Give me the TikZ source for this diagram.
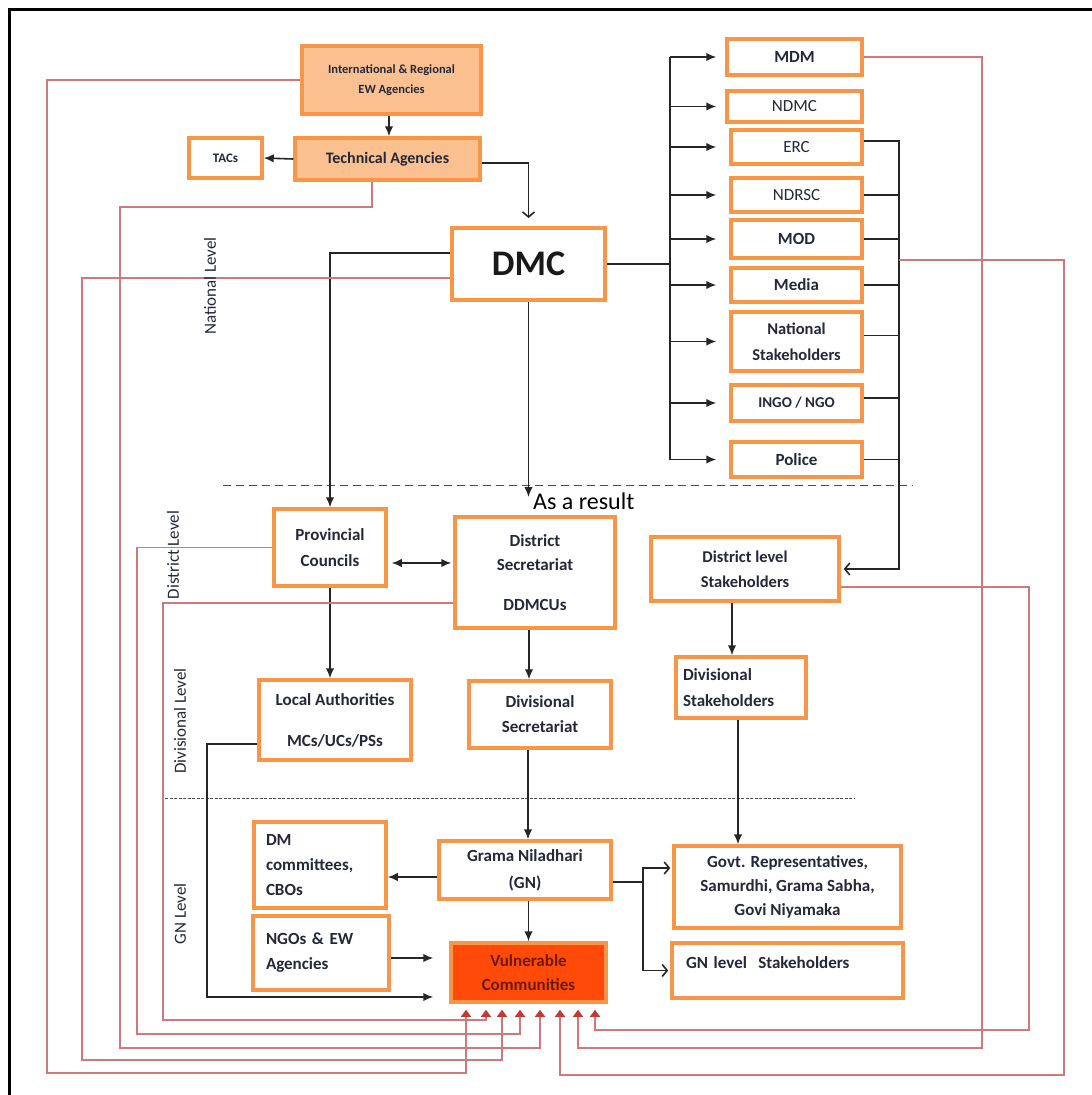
\documentclass[tikz,border=0pt]{standalone}
\usepackage{fontspec}
\setmainfont{Carlito}
\usetikzlibrary{arrows.meta,calc}

\definecolor{boxedge}{HTML}{F79646}
\definecolor{boxfill}{HTML}{FAC090}
\definecolor{hotfill}{HTML}{FF4A0A}
\definecolor{hotink}{HTML}{6B1A0A}
\definecolor{ink}{HTML}{23283A}
\definecolor{feedred}{HTML}{CD7A7A}
\definecolor{feedtip}{HTML}{C23A32}

\begin{document}
\begin{tikzpicture}[x=1pt,y=-1pt,
  box/.style={draw=boxedge, line width=3.5pt, fill=white, inner sep=0pt,
    align=center, text=ink, font=\bfseries\fontsize{17}{25}\selectfont},
  plain/.style={font=\fontsize{17}{25}\selectfont},
  conn/.style={draw=black!85, line width=1.6pt},
  arr/.style={conn, -{Latex[length=10pt,width=8.5pt]}},
  dblarr/.style={conn, {Latex[length=10pt,width=8.5pt]}-{Latex[length=10pt,width=8.5pt]}},
  openarr/.style={conn, -{Straight Barb[length=5pt,width=12pt]}},
  feed/.style={draw=feedred, line width=1.2pt},
  feedarr/.style={feed, -{Triangle[length=7pt,width=10pt,color=feedtip]}, shorten >=6pt},
  lvl/.style={rotate=90, text=ink, font=\fontsize{17}{20}\selectfont},
  sep/.style={draw=black!70, line width=1pt},
]
\useasboundingbox (0,0) rectangle (1092,1095);

% frame
\draw[line width=3pt] (9.5,1095) -- (9.5,9.5) -- (1092,9.5);

% national level
\node[box, fill=boxfill, minimum width=179pt, minimum height=68pt,
  font=\bfseries\fontsize{12.5}{20}\selectfont] (intl) at (391.5,80) {International \& Regional\\EW Agencies};
\node[box, fill=boxfill, minimum width=185pt, minimum height=42pt,
  font=\bfseries\fontsize{16}{20}\selectfont] (tech) at (387.5,159) {Technical Agencies};
\node[box, minimum width=73pt, minimum height=40pt,
  font=\bfseries\fontsize{13}{16}\selectfont] (tacs) at (225.5,158) {TACs};
\node[box, line width=4pt, minimum width=153pt, minimum height=72pt,
  text=black!90, font=\bfseries\fontsize{36}{40}\selectfont] (dmc) at (528.5,264) {DMC};

\node[box, minimum width=135pt, minimum height=36pt] (mdm) at (794.5,57) {MDM};
\node[box, plain, minimum width=135pt, minimum height=31pt] (ndmc) at (794.5,106.5) {NDMC};
\node[box, plain, minimum width=131pt, minimum height=34pt] (erc) at (796.5,147) {ERC};
\node[box, plain, minimum width=131pt, minimum height=34pt] (ndrsc) at (796.5,195) {NDRSC};
\node[box, minimum width=131pt, minimum height=38pt] (mod) at (796.5,239) {MOD};
\node[box, minimum width=131pt, minimum height=34pt] (media) at (796.5,285) {Media};
\node[box, minimum width=131pt, minimum height=59pt,
  font=\bfseries\fontsize{16.5}{26}\selectfont] (natstk) at (796.5,341.5) {National\\Stakeholders};
\node[box, minimum width=131pt, minimum height=36pt,
  font=\bfseries\fontsize{15}{20}\selectfont] (ingo) at (796.5,403) {INGO / NGO};
\node[box, minimum width=131pt, minimum height=35pt] (police) at (796.5,459.5) {Police};

% district level
\node[box, minimum width=112pt, minimum height=77pt,
  font=\bfseries\fontsize{17}{26}\selectfont] (pc) at (330,547.5) {Provincial\\Councils};
\node[box, minimum width=160pt, minimum height=111pt,
  font=\bfseries\fontsize{17}{24}\selectfont] (ds) at (535,572.5) {District\\Secretariat\\[16pt]DDMCUs};
\node[box, minimum width=188pt, minimum height=64pt,
  font=\bfseries\fontsize{16.5}{25}\selectfont] (dls) at (745,569) {District level\\Stakeholders};

% divisional level
\node[box, minimum width=152pt, minimum height=80pt] (la) at (335,720) {Local Authorities\\[16pt]MCs/UCs/PSs};
\node[box, minimum width=142pt, minimum height=67pt] (divsec) at (540,714.5) {Divisional\\Secretariat};
\node[box, minimum width=130pt, minimum height=61pt, align=left, text width=116pt,
  font=\bfseries\fontsize{17}{26}\selectfont] (divstk) at (741,687.5) {Divisional\\Stakeholders};

% GN level
\node[box, minimum width=172pt, minimum height=58pt,
  font=\bfseries\fontsize{17}{27}\selectfont] (gn) at (525,870) {Grama Niladhari\\(GN)};
\node[box, minimum width=132pt, minimum height=86pt, align=left, text width=108pt] (dm) at (320,865) {DM\\committees,\\CBOs};
\node[box, minimum width=136pt, minimum height=74pt, align=left, text width=110pt] (ngo) at (321,953) {NGOs \& EW\\Agencies};
\node[box, fill=hotfill, minimum width=155pt, minimum height=59pt, text=hotink,
  font=\bfseries\fontsize{17}{24}\selectfont] (vc) at (528.5,972.5) {Vulnerable\\Communities};
\node[box, minimum width=227pt, minimum height=82pt,
  font=\bfseries\fontsize{17}{24}\selectfont] (govt) at (787.5,887) {Govt. Representatives,\\Samurdhi, Grama Sabha,\\Govi Niyamaka};
\node[box, minimum width=231pt, minimum height=55pt, align=left, text width=203pt,
  text depth=16pt] (gnl) at (787.5,970.5) {GN level\ \ Stakeholders};

\node[anchor=west, inner sep=0pt, font=\fontsize{24}{26}\selectfont] (result) at (533,501) {As a result};

% level separators
\draw[sep, dash pattern=on 8pt off 5pt] (223,485) -- (913,485);
\draw[sep, dash pattern=on 3pt off 1.5pt] (165,798) -- (855,798);

% top chain
\draw[arr] (intl.south -| 389,0) -- (tech.north -| 389,0);
\draw[arr] (tech.west) -- (tacs.east);
\draw[openarr, shorten >=8pt] ([yshift=-4pt]tech.east) -| (dmc.north);

% distribution bus to national agencies
\coordinate (busL) at (670,264);
\coordinate (busR) at (899,263);
\draw[conn] (dmc.east) -- (busL);
\draw[conn] (busL |- mdm.west) -- (busL |- police.west);
\foreach \n in {mdm,ndmc}
  \draw[arr, shorten >=9pt] (busL |- \n.west) -- (\n.west);
\foreach \n in {erc,ndrsc,mod,media,natstk,ingo,police}
  \draw[arr, shorten >=13pt] (busL |- \n.west) -- (\n.west);

% national agencies to district level stakeholders
\draw[openarr, shorten >=3pt] ([yshift=6pt]erc.east) -| (busR |- dls.east) -- (dls.east);
\foreach \n in {ndrsc,mod,media}
  \draw[conn] (\n.east) -- (busR |- \n.east);
\draw[conn] ([yshift=6pt]natstk.east) -- ([yshift=6pt]natstk.east -| busR);
\draw[conn] ([yshift=5pt]ingo.east) -- ([yshift=5pt]ingo.east -| busR);
\draw[conn] (police.east) -- (busR |- police.east);

% DMC downwards
\coordinate (resultpt) at (528.5,497);
\draw[arr] (dmc.south) -- (resultpt);
\draw[arr] ([yshift=11pt]dmc.west) -| (pc.north);

% district / divisional links
\draw[dblarr, shorten <=4pt, shorten >=2pt] ([yshift=-15.5pt]pc.east) -- ([yshift=-15.5pt]pc.east -| ds.west);
\draw[arr] (pc.south) -- (pc.south |- la.north);
\draw[arr] ([xshift=-6pt]ds.south) -- ([xshift=-6pt]ds.south |- divsec.north);
\draw[arr] ([xshift=-13pt]dls.south) -- ([xshift=-13pt]dls.south |- divstk.north);
\draw[arr] ([xshift=-12pt]divsec.south) -- ([xshift=-12pt]divsec.south |- gn.north);
\draw[arr] ([xshift=-3pt]divstk.south) -- ([xshift=-3pt]divstk.south |- govt.north);

% GN level links
\draw[arr] (vc.north |- gn.south) -- (vc.north);
\draw[arr] ([yshift=-7pt]gn.west) -- ([yshift=-7pt]gn.west -| dm.east);
\coordinate (fork) at (643,882);
\draw[conn] ([yshift=-12pt]gn.east) -- (fork);
\draw[openarr, shorten >=2pt] (fork) |- ([yshift=19pt]govt.west);
\draw[openarr, shorten >=2pt] (fork) |- (gnl.west);
\draw[arr, shorten >=16pt] ([yshift=-5pt]ngo.east) -- ([yshift=-5pt]ngo.east -| vc.west);
\draw[arr, shorten >=16pt] ([yshift=-24pt]la.west) -| (207,997) -- ([yshift=-24.5pt]vc.west);

% feedback lines into the vulnerable communities
\draw[feedarr] (intl.west) -| (47,1073) -| ([xshift=-62.5pt]vc.south);
\draw[feedarr] ([yshift=-30.5pt]ds.west) -| (163,1020) -| ([xshift=-42.5pt]vc.south);
\draw[feedarr] ([yshift=-14pt]dmc.west) -| (82,1060) -| ([xshift=-26.5pt]vc.south);
\draw[feedarr] (pc.west) -| (137,1034) -| ([xshift=-8.5pt]vc.south);
\draw[feedarr] ([xshift=-15.5pt]tech.south) |- (120,207) -- (120,1048) -| ([xshift=11.5pt]vc.south);
\draw[feedarr] ([yshift=3pt]busR) -| (1064,1075) -| ([xshift=31.5pt]vc.south);
\draw[feedarr] (mdm.east) -| (982,1048) -| ([xshift=49.5pt]vc.south);
\draw[feedarr] ([yshift=-18pt]dls.east) -| (1029,1030) -| ([xshift=66.5pt]vc.south);

% level labels, set over the lines they cross
\node[lvl] (lnat) at (210,286) {National Level};
\node[lvl] (ldist) at (173,555) {District Level};
\node[lvl] (ldiv) at (180,721) {Divisional Level};
\node[lvl] (lgn) at (180,914) {GN Level};
\end{tikzpicture}
\end{document}
